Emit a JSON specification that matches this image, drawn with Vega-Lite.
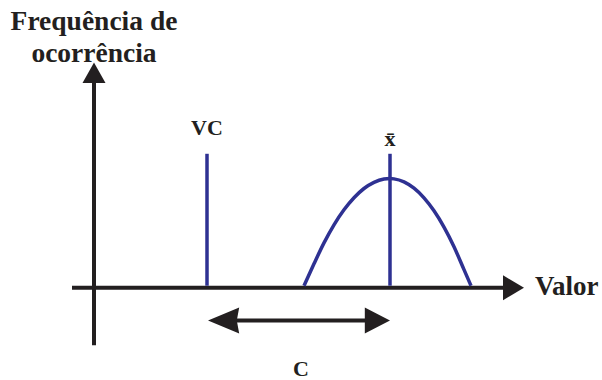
{
  "$schema": "https://vega.github.io/schema/vega-lite/v6.json",
  "width": 602,
  "height": 380,
  "autosize": {"type": "fit", "contains": "padding"},
  "padding": 0,
  "background": "white",
  "config": {"view": {"stroke": null}},
  "layer": [
    {
      "data": {"values": [
        {"x": -22, "y": 0, "x2": 412, "y2": 0},
        {"x": 0, "y": -58, "x2": 0, "y2": 212},
        {"x": 128, "y": -33, "x2": 284, "y2": -33}
      ]},
      "mark": {"type": "rule", "color": "#231f20", "strokeWidth": 4},
      "encoding": {
        "x": {"field": "x", "type": "quantitative", "scale": {"domain": [-94, 508], "nice": false, "zero": false}, "axis": null},
        "y": {"field": "y", "type": "quantitative", "scale": {"domain": [-90, 290], "nice": false, "zero": false}, "axis": null},
        "x2": {"field": "x2"},
        "y2": {"field": "y2"}
      }
    },
    {
      "data": {"values": [
        {"x": 113, "y": 2, "x2": 113, "y2": 135},
        {"x": 296, "y": 2, "x2": 296, "y2": 135}
      ]},
      "mark": {"type": "rule", "color": "#2e3192", "strokeWidth": 3.5},
      "encoding": {
        "x": {"field": "x", "type": "quantitative"},
        "y": {"field": "y", "type": "quantitative"},
        "x2": {"field": "x2"},
        "y2": {"field": "y2"}
      }
    },
    {
      "data": {"values": [
        {"x": 210, "y": 2},
        {"x": 220, "y": 24.1},
        {"x": 230, "y": 45.2},
        {"x": 240, "y": 63.4},
        {"x": 250, "y": 78.5},
        {"x": 260, "y": 90.7},
        {"x": 270, "y": 100},
        {"x": 280, "y": 106.2},
        {"x": 290, "y": 109.5},
        {"x": 296, "y": 110},
        {"x": 300, "y": 109.7},
        {"x": 310, "y": 106.7},
        {"x": 320, "y": 100.3},
        {"x": 330, "y": 90.6},
        {"x": 340, "y": 77.5},
        {"x": 350, "y": 61.1},
        {"x": 360, "y": 41.3},
        {"x": 370, "y": 18.2},
        {"x": 377, "y": 2}
      ]},
      "mark": {"type": "line", "color": "#2e3192", "strokeWidth": 3.5, "interpolate": "monotone"},
      "encoding": {
        "x": {"field": "x", "type": "quantitative"},
        "y": {"field": "y", "type": "quantitative"}
      }
    },
    {
      "data": {"values": [
        {"x": 430, "y": 0, "dir": "right"},
        {"x": 0, "y": 227, "dir": "up"},
        {"x": 114, "y": -33, "dir": "left"},
        {"x": 296, "y": -33, "dir": "right2"}
      ]},
      "mark": {"type": "point", "filled": true, "color": "#231f20", "opacity": 1, "size": 576, "strokeWidth": 0},
      "encoding": {
        "x": {"field": "x", "type": "quantitative"},
        "y": {"field": "y", "type": "quantitative"},
        "shape": {
          "field": "dir", "type": "nominal", "legend": null,
          "scale": {
            "domain": ["right", "up", "left", "right2"],
            "range": [
              "M0,0 L-1.75,-1.04 L-1.75,1.04 Z",
              "M0,0 L-0.96,1.7 L0.96,1.7 Z",
              "M0,0 L2.6,-1.08 L2.4,0 L2.6,1.08 Z",
              "M0,0 L-2.1,-1.08 L-2.1,1.08 Z"
            ]
          }
        }
      }
    },
    {
      "data": {"values": [
        {"x": 0, "y": 260, "t": "Frequência de"},
        {"x": 0, "y": 228, "t": "ocorrência"}
      ]},
      "mark": {"type": "text", "font": "Liberation Serif", "fontWeight": "bold", "fontSize": 27.5, "align": "center", "baseline": "alphabetic", "color": "#231f20"},
      "encoding": {
        "x": {"field": "x", "type": "quantitative"},
        "y": {"field": "y", "type": "quantitative"},
        "text": {"field": "t"}
      }
    },
    {
      "data": {"values": [
        {"x": 113, "y": 154, "t": "VC"},
        {"x": 296, "y": 143, "t": "x̄"},
        {"x": 207, "y": -89, "t": "C"}
      ]},
      "mark": {"type": "text", "font": "Liberation Serif", "fontWeight": "bold", "fontSize": 22, "align": "center", "baseline": "alphabetic", "color": "#231f20"},
      "encoding": {
        "x": {"field": "x", "type": "quantitative"},
        "y": {"field": "y", "type": "quantitative"},
        "text": {"field": "t"}
      }
    },
    {
      "data": {"values": [
        {"x": 441, "y": -7, "t": "Valor"}
      ]},
      "mark": {"type": "text", "font": "Liberation Serif", "fontWeight": "bold", "fontSize": 27, "align": "left", "baseline": "alphabetic", "color": "#231f20"},
      "encoding": {
        "x": {"field": "x", "type": "quantitative"},
        "y": {"field": "y", "type": "quantitative"},
        "text": {"field": "t"}
      }
    }
  ]
}
